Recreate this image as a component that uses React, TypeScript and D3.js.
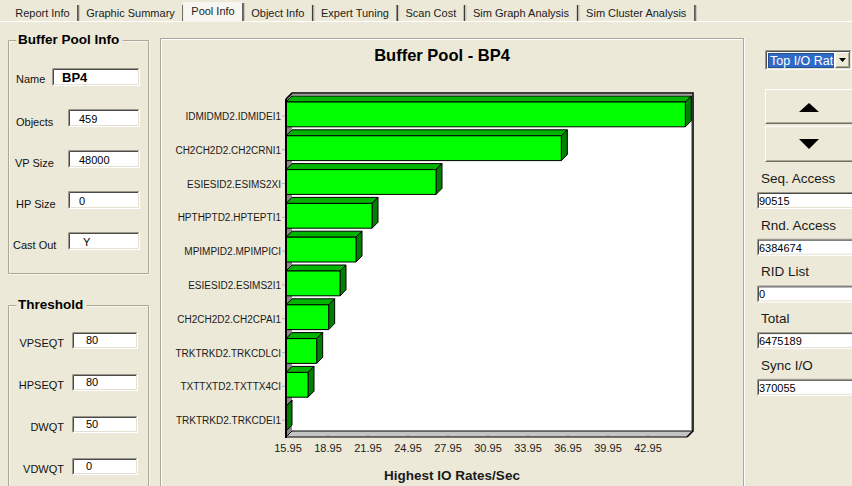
import React from "react";
import * as d3 from "d3";

// ---- chart data ----
const categories = [
  "IDMIDMD2.IDMIDEI1",
  "CH2CH2D2.CH2CRNI1",
  "ESIESID2.ESIMS2XI",
  "HPTHPTD2.HPTEPTI1",
  "MPIMPID2.MPIMPICI",
  "ESIESID2.ESIMS2I1",
  "CH2CH2D2.CH2CPAI1",
  "TRKTRKD2.TRKCDLCI",
  "TXTTXTD2.TXTTX4CI",
  "TRKTRKD2.TRKCDEI1",
];
const ioRates = [45.9, 36.6, 27.2, 22.4, 21.2, 20.0, 19.15, 18.25, 17.6, 15.95];
const xTickLabels = ["15.95", "18.95", "21.95", "24.95", "27.95", "30.95", "33.95", "36.95", "39.95", "42.95"];
const xDomain = [15.95, 45.95];

// ---- surrounding form data ----
const tabs = ["Report Info", "Graphic Summary", "Pool Info", "Object Info", "Expert Tuning", "Scan Cost", "Sim Graph Analysis", "Sim Cluster Analysis"];
const selectedTab = "Pool Info";
const poolFields = ["Name", "Objects", "VP Size", "HP Size", "Cast Out"];
const poolValues = ["BP4", "459", "48000", "0", "Y"];
const thresholdFields = ["VPSEQT", "HPSEQT", "DWQT", "VDWQT"];
const thresholdValues = ["80", "80", "50", "0"];
const accessFields = ["Seq. Access", "Rnd. Access", "RID List", "Total", "Sync I/O"];
const accessValues = ["90515", "6384674", "0", "6475189", "370055"];

const FONT = "'Liberation Sans', Arial, Helvetica, sans-serif";
const BG = "#ece9d8";

function measure(text: string, font: string): number {
  const c = document.createElement("canvas").getContext("2d");
  if (!c) return text.length * 6;
  c.font = font;
  return c.measureText(text).width;
}

function Sunken({ x, y, w, h }: { x: number; y: number; w: number; h: number }) {
  return (
    <g>
      <rect x={x} y={y} width={w} height={h} fill="#ffffff" />
      <path d={`M${x + 0.5},${y + h}V${y + 0.5}H${x + w}`} fill="none" stroke="#9d9a8c" />
      <path d={`M${x + 1.5},${y + h - 1}V${y + 1.5}H${x + w - 1}`} fill="none" stroke="#4a4a4a" />
      <path d={`M${x + 0.5},${y + h - 0.5}H${x + w - 0.5}V${y}`} fill="none" stroke="#ffffff" />
      <path d={`M${x + 1.5},${y + h - 1.5}H${x + w - 1.5}V${y + 1}`} fill="none" stroke="#e4e1d2" />
    </g>
  );
}

function Raised({ x, y, w, h }: { x: number; y: number; w: number; h: number }) {
  return (
    <g>
      <rect x={x} y={y} width={w} height={h} fill={BG} />
      <path d={`M${x + 0.5},${y + h}V${y + 0.5}H${x + w}`} fill="none" stroke="#ffffff" />
      <path d={`M${x + 0.5},${y + h - 0.5}H${x + w - 0.5}V${y}`} fill="none" stroke="#716f64" />
      <path d={`M${x + 1.5},${y + h - 1.5}H${x + w - 1.5}V${y + 1}`} fill="none" stroke="#aca899" />
    </g>
  );
}

function GroupBox({ x, y, w, h, title }: { x: number; y: number; w: number; h: number; title: string }) {
  const tw = measure(title, `bold 13.5px ${FONT}`);
  const gap0 = x + 8;
  const gap1 = x + 13 + tw;
  const d = `M${gap0},${y}H${x}V${y + h}H${x + w}V${y}H${gap1}`;
  return (
    <g>
      <path d={d} fill="none" stroke="#ffffff" transform="translate(1,1)" />
      <path d={d} fill="none" stroke="#aca899" transform="translate(0.5,0.5)" />
      <text x={x + 10} y={y + 4} fontFamily={FONT} fontWeight="bold" fontSize={13.5} fill="#000">
        {title}
      </text>
    </g>
  );
}

function TabStrip() {
  const font = `11px ${FONT}`;
  let cursor = 8;
  const items = tabs.map((t) => {
    const tw = measure(t, font);
    const w = tw + 16.5;
    const it = { t, x: cursor, w, tw };
    cursor += w;
    return it;
  });
  return (
    <g>
      <line x1={0} x2={852} y1={21.5} y2={21.5} stroke="#ffffff" />
      {items.map((it) => {
        const sel = it.t === selectedTab;
        return (
          <g key={it.t}>
            {sel && <rect x={it.x - 1} y={2} width={it.w} height={20} fill="#f7f6f1" />}
            <text
              x={it.x + it.w / 2 - 1}
              y={sel ? 15 : 17}
              textAnchor="middle"
              fontFamily={FONT}
              fontSize={11}
              fill="#1c1c1c"
            >
              {it.t}
            </text>
            <line x1={it.x + it.w - 1} x2={it.x + it.w - 1} y1={sel ? 3 : 5} y2={21} stroke="#3c3c3c" strokeWidth={1.5} />
            <line x1={it.x + it.w + 0.5} x2={it.x + it.w + 0.5} y1={sel ? 3 : 5} y2={21} stroke="#c8c5b5" />
          </g>
        );
      })}
    </g>
  );
}

function BarChart() {
  const depth = 6;
  const plotTop = 99;
  const plotBottom = 437;
  const x = d3.scaleLinear().domain(xDomain).range([286, 686]);
  const y = d3.scaleBand<string>().domain(categories).range([plotTop, plotBottom]);
  const x0 = x(xDomain[0]);
  const x1 = x(xDomain[1]);
  const step = y.step();
  const barH = step - 9;
  const cx = 452;

  return (
    <g>
      <text x={442} y={61} textAnchor="middle" fontFamily={FONT} fontWeight="bold" fontSize={16.5} fill="#000">
        Buffer Pool - BP4
      </text>

      {/* back wall */}
      <rect x={x0 + depth} y={plotTop - depth} width={x1 - x0 + 1} height={plotBottom - plotTop} fill="#ffffff" />
      {/* left wall */}
      <polygon
        points={`${x0},${plotTop} ${x0 + depth},${plotTop - depth} ${x0 + depth},${plotBottom - depth} ${x0},${plotBottom}`}
        fill="#8a8a8a"
      />
      {/* floor */}
      <polygon
        points={`${x0},${plotBottom} ${x0 + depth},${plotBottom - depth} ${x1 + 1 + depth},${plotBottom - depth} ${x1 + 1},${plotBottom}`}
        fill="#c4c4c4"
        stroke="#000"
        strokeWidth={1}
      />
      {/* back frame */}
      <path
        d={`M${x0},${plotTop}L${x0 + depth},${plotTop - depth}H${x1 + 1 + depth}V${plotBottom - depth}L${x1 + 1},${plotBottom}`}
        fill="none"
        stroke="#000"
        strokeWidth={1.6}
      />
      <path
        d={`M${x0 + depth},${plotTop - depth + 1.5}H${x1 + depth - 0.5}V${plotBottom - depth}`}
        fill="none"
        stroke="#9a9a9a"
        strokeWidth={1}
      />

      {/* floor tick marks */}
      {xTickLabels.map((t) => (
        <line key={"ft" + t} x1={x(+t) + 2} x2={x(+t) + 2} y1={plotBottom - 2} y2={plotBottom + 0.5} stroke="#6e6e6e" />
      ))}

      {/* bars */}
      {categories.map((c, i) => {
        const top = (y(c) as number) + 3;
        const bx1 = x(ioRates[i]);
        const bot = top + barH;
        return (
          <g key={c} stroke="#000" strokeWidth={1} strokeLinejoin="round">
            <polygon
              points={`${x0},${top} ${x0 + depth},${top - depth} ${bx1 + depth},${top - depth} ${bx1},${top}`}
              fill="#00b400"
            />
            <polygon
              points={`${bx1},${top} ${bx1 + depth},${top - depth} ${bx1 + depth},${bot - depth} ${bx1},${bot}`}
              fill="#008000"
            />
            {bx1 > x0 && <rect x={x0} y={top} width={bx1 - x0} height={barH} fill="#00ff00" />}
          </g>
        );
      })}

      {/* left axis line */}
      <line x1={x0} x2={x0} y1={plotTop} y2={plotBottom + 1} stroke="#000" strokeWidth={2} />

      {/* category labels */}
      {categories.map((c) => (
        <g key={"l" + c}>
          <line x1={x0 - 4} x2={x0 - 1} y1={(y(c) as number) + step / 2} y2={(y(c) as number) + step / 2} stroke="#b5b3a8" />
          <text
            x={281}
            y={(y(c) as number) + step / 2 + 4}
            textAnchor="end"
            fontFamily={FONT}
            fontSize={10}
            fill="#1a1a1a"
          >
            {c}
          </text>
        </g>
      ))}

      {/* value axis labels */}
      {xTickLabels.map((t) => (
        <text key={"t" + t} x={x(+t) + 2} y={452} textAnchor="middle" fontFamily={FONT} fontSize={11} fill="#1a1a1a">
          {t}
        </text>
      ))}

      <text x={cx} y={480} textAnchor="middle" fontFamily={FONT} fontWeight="bold" fontSize={13.5} fill="#1a1a1a">
        Highest IO Rates/Sec
      </text>
    </g>
  );
}

export default function App() {
  const W = 852;
  const H = 486;
  const poolTops = poolFields.map((_, i) => 68 + i * 41);
  const poolLabelX = [16, 16, 15, 16, 13];
  const threshTops = thresholdFields.map((_, i) => 332 + i * 42);
  const accessBase = accessFields.map((_, i) => 183 + i * 46.7);

  return (
    <svg
      width={W}
      height={H}
      viewBox={`0 0 ${W} ${H}`}
      style={{ position: "absolute", left: 0, top: 0, display: "block" }}
    >
      <defs>
        <clipPath id="comboClip">
          <rect x={768} y={52} width={66} height={16} />
        </clipPath>
      </defs>
      <rect x={0} y={0} width={W} height={H} fill={BG} />

      <TabStrip />

      {/* Buffer Pool Info group */}
      <GroupBox x={8} y={40} w={140} h={233} title="Buffer Pool Info" />
      {poolFields.map((f, i) => {
        const top = poolTops[i];
        const isName = i === 0;
        const bx = isName ? 52 : 68;
        return (
          <g key={f}>
            <text x={poolLabelX[i]} y={top + (isName ? 15 : 17)} fontFamily={FONT} fontSize={11} fill="#111">
              {f}
            </text>
            <Sunken x={bx} y={top} w={140 - bx} h={18} />
            <text
              x={isName ? 62 : i === 4 ? 83 : 79}
              y={top + 14}
              fontFamily={FONT}
              fontSize={isName ? 13 : 11}
              fontWeight={isName ? "bold" : "normal"}
              fill="#000"
            >
              {poolValues[i]}
            </text>
          </g>
        );
      })}

      {/* Threshold group */}
      <GroupBox x={8} y={305} w={140} h={200} title="Threshold" />
      {thresholdFields.map((f, i) => {
        const top = threshTops[i];
        return (
          <g key={f}>
            <text x={64} y={top + 15} textAnchor="end" fontFamily={FONT} fontSize={11} fill="#111">
              {f}
            </text>
            <Sunken x={72} y={top} w={66} h={17} />
            <text x={86} y={top + 12} fontFamily={FONT} fontSize={11} fill="#000">
              {thresholdValues[i]}
            </text>
          </g>
        );
      })}

      {/* chart panel */}
      <rect x={160.5} y={38.5} width={583} height={460} fill="none" stroke="#aca899" />
      <path d={`M161.5,498V39.5H742.5`} fill="none" stroke="#ffffff" />
      <path d={`M744.5,39V498`} fill="none" stroke="#ffffff" />

      <BarChart />

      {/* selector combo */}
      <Sunken x={765} y={50} w={87} h={20} />
      <rect x={768} y={53} width={66} height={15} fill="#316ac5" />
      <rect x={768.5} y={53.5} width={65} height={14} fill="none" stroke="#000" strokeDasharray="1,1" strokeOpacity={0.5} />
      <text x={770} y={65} fontFamily={FONT} fontSize={12.5} fill="#ffffff" clipPath="url(#comboClip)">
        Top I/O Rates
      </text>
      <Raised x={835} y={52} w={15} h={16} />
      <polygon points="839,58 846,58 842.5,62" fill="#000" />

      {/* scroll buttons */}
      <Raised x={765} y={89} w={100} h={35} />
      <polygon points="799,112 819,112 809,103" fill="#000" />
      <Raised x={765} y={126} w={100} h={36} />
      <polygon points="799,139 819,139 809,149" fill="#000" />

      {/* access statistics */}
      {accessFields.map((f, i) => {
        const b = accessBase[i];
        return (
          <g key={f}>
            <text x={761} y={b} fontFamily={FONT} fontSize={13.5} fill="#1a1a1a">
              {f}
            </text>
            <Sunken x={757} y={b + 9} w={100} h={17} />
            <text x={759} y={b + 22} fontFamily={FONT} fontSize={11} fill="#000">
              {accessValues[i]}
            </text>
          </g>
        );
      })}
    </svg>
  );
}
